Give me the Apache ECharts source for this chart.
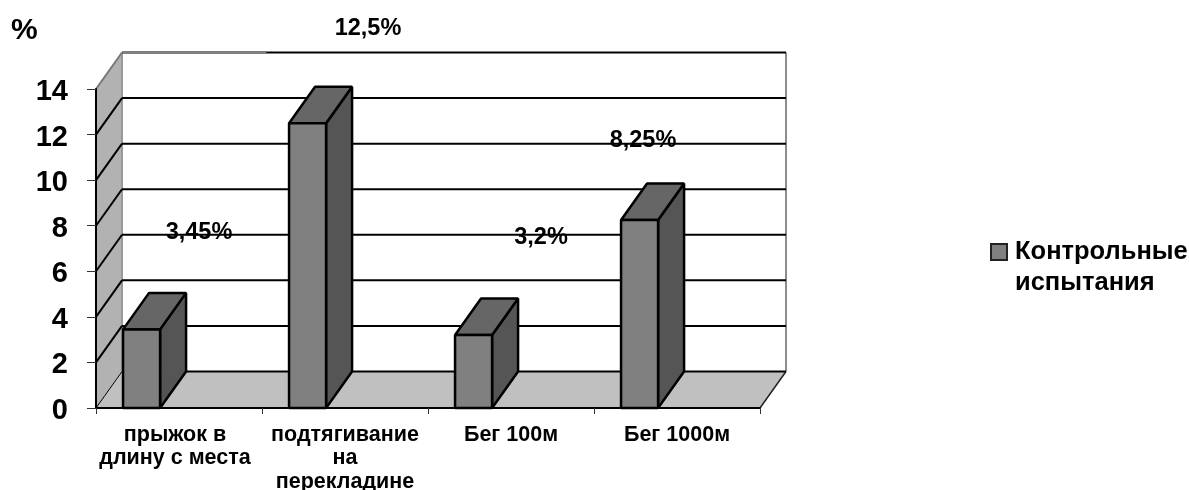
<!DOCTYPE html>
<html>
<head>
<meta charset="utf-8">
<style>html,body{margin:0;padding:0;background:#fff}#chart{width:1189px;height:490px}</style>
<script src="https://cdn.jsdelivr.net/npm/echarts@6/dist/echarts.min.js"></script>
</head>
<body>
<div id="chart"></div>
<script>
// Контрольные испытания, прирост результатов в процентах
const categories = ['прыжок в\nдлину с места', 'подтягивание\nна\nперекладине', 'Бег 100м', 'Бег 1000м'];
const values = [3.45, 12.5, 3.2, 8.25];
const valueLabels = ['3,45%', '12,5%', '3,2%', '8,25%'];
const yTicks = [0, 2, 4, 6, 8, 10, 12, 14];
const seriesName = 'Контрольные\nиспытания';

// Pseudo-3D projection of the depth axis, in pixels
const DEPTH_X = 26;
const DEPTH_Y = -36.5;
// Bar placement within a category band, as a share of the band width
const BAR_START = -0.337;
const BAR_WIDTH = 0.223;
// Where each value label sits relative to the top of its bar
const labelShift = [[20, -96.5], [23, -95], [30, -98], [-34, -80]];

const FONT = '"Liberation Sans", Arial, sans-serif';
const EDGE = '#000';

function poly(points, fill, stroke, lineWidth) {
  return {
    type: 'polygon',
    shape: { points },
    style: { fill: fill, stroke: stroke || 'none', lineWidth: lineWidth || 0, lineJoin: 'bevel' }
  };
}
function seg(x1, y1, x2, y2, stroke, lineWidth) {
  return {
    type: 'line',
    shape: { x1, y1, x2, y2 },
    style: { stroke, lineWidth, lineCap: 'butt' }
  };
}

// Side wall, floor and back wall of the box
function renderWalls(params, api) {
  const c = params.coordSys;
  const l = c.x, r = c.x + c.width;
  const bottom = api.coord([0, 0])[1], top = api.coord([0, 14])[1];
  return {
    type: 'group',
    children: [
      poly([[l + DEPTH_X, bottom + DEPTH_Y], [r + DEPTH_X, bottom + DEPTH_Y], [r + DEPTH_X, top + DEPTH_Y], [l + DEPTH_X, top + DEPTH_Y]], '#fff'),
      poly([[l, bottom], [l + DEPTH_X, bottom + DEPTH_Y], [l + DEPTH_X, top + DEPTH_Y], [l, top]], '#b2b2b2'),
      poly([[l, bottom], [l + DEPTH_X, bottom + DEPTH_Y], [r + DEPTH_X, bottom + DEPTH_Y], [r, bottom]], '#c0c0c0'),
      seg(l + DEPTH_X, bottom + DEPTH_Y, l + DEPTH_X, top + DEPTH_Y, '#999', 2),
      seg(r + DEPTH_X, bottom + DEPTH_Y, r + DEPTH_X, top + DEPTH_Y, '#8c8c8c', 2),
      seg(r, bottom, r + DEPTH_X, bottom + DEPTH_Y, '#222', 1.5)
    ]
  };
}

// One gridline per tick: a diagonal on the side wall and a run along the back wall
function renderGridline(params, api) {
  const c = params.coordSys;
  const l = c.x, r = c.x + c.width;
  const v = api.value(0);
  const y = api.coord([0, v])[1];
  const isTop = v === yTicks[yTicks.length - 1];
  const isFloor = v === 0;
  const diagColor = isTop ? '#777' : EDGE;
  const diagWidth = isFloor ? 1 : 2;
  const children = [seg(l, y, l + DEPTH_X, y + DEPTH_Y, diagColor, diagWidth)];
  children.push(seg(l + DEPTH_X, y + DEPTH_Y, r + DEPTH_X, y + DEPTH_Y, EDGE, 2));
  if (isTop) {
    children.push(seg(l + DEPTH_X, y + DEPTH_Y, l + DEPTH_X + c.width / 4.6, y + DEPTH_Y, '#808080', 2));
  }
  return { type: 'group', children };
}

function renderBar(params, api) {
  const i = api.value(0), v = api.value(1);
  const center = api.coord([i, v]);
  const base = api.coord([i, 0])[1];
  const band = api.size([1, 0])[0];
  const x0 = center[0] + band * BAR_START;
  const x1 = x0 + band * BAR_WIDTH;
  const y = center[1];
  const shift = labelShift[params.dataIndex];
  return {
    type: 'group',
    children: [
      poly([[x1, base], [x1 + DEPTH_X, base + DEPTH_Y], [x1 + DEPTH_X, y + DEPTH_Y], [x1, y]], '#555', EDGE, 2.5),
      poly([[x0, y], [x0 + DEPTH_X, y + DEPTH_Y], [x1 + DEPTH_X, y + DEPTH_Y], [x1, y]], '#666', EDGE, 2.5),
      poly([[x0, base], [x1, base], [x1, y], [x0, y]], '#808080', EDGE, 2.5),
      {
        type: 'text',
        z2: 20,
        style: {
          x: center[0] + shift[0],
          y: y + shift[1],
          text: valueLabels[params.dataIndex],
          align: 'center',
          verticalAlign: 'middle',
          fill: '#000',
          font: 'bold 23.5px ' + FONT
        }
      }
    ]
  };
}

const chart = echarts.init(document.getElementById('chart'), null, { renderer: 'canvas' });
chart.setOption({
  animation: false,
  backgroundColor: '#fff',
  tooltip: { show: false },
  title: {
    text: '%',
    left: 6,
    top: 11,
    textStyle: { fontFamily: FONT, fontWeight: 'bold', fontSize: 30, color: '#000' }
  },
  grid: { left: 96, top: 89, width: 664, height: 319, outerBoundsMode: 'none' },
  xAxis: {
    type: 'category',
    // the first, two-line label sits a little left of its band centre
    data: categories.map((value, i) => (i === 0 ? { value, textStyle: { padding: [0, 8, 0, 0] } } : value)),
    z: 5,
    axisLine: { show: true, lineStyle: { color: '#000', width: 2 } },
    axisTick: { show: true, alignWithLabel: false, length: 6, lineStyle: { color: '#333', width: 1 } },
    axisLabel: {
      interval: 0,
      margin: 15,
      lineHeight: 23.5,
      fontFamily: FONT,
      fontWeight: 'bold',
      fontSize: 21.5,
      color: '#000',
      verticalAlign: 'top'
    },
    splitLine: { show: false }
  },
  yAxis: {
    type: 'value',
    min: 0,
    max: 14,
    interval: 2,
    z: 5,
    axisLine: { show: true, lineStyle: { color: '#000', width: 2 } },
    axisTick: { show: true, length: 9, lineStyle: { color: '#333', width: 1 } },
    axisLabel: {
      margin: 28,
      fontFamily: FONT,
      fontWeight: 'bold',
      fontSize: 29,
      color: '#000',
      // digits sit slightly below their tick
      formatter: '{n|{value}}',
      rich: { n: { padding: [6, 0, 0, 0], fontFamily: FONT, fontWeight: 'bold', fontSize: 29, color: '#000' } }
    },
    splitLine: { show: false }
  },
  legend: {
    left: 990,
    top: 235,
    padding: 0,
    itemGap: 0,
    itemWidth: 16,
    itemHeight: 62,
    selectedMode: false,
    data: [{
      name: seriesName,
      icon: 'path://M0 8H16V24H0Z M0 0H0Z M0 62H0Z',
      itemStyle: { color: '#808080', borderColor: '#222', borderWidth: 2 }
    }],
    textStyle: { fontFamily: FONT, fontWeight: 'bold', fontSize: 25.5, lineHeight: 31, color: '#000', padding: [0, 0, 0, 3] }
  },
  series: [
    { type: 'custom', name: 'walls', z: 1, silent: true, clip: false, data: [[0]], renderItem: renderWalls },
    { type: 'custom', name: 'grid', z: 2, silent: true, clip: false, data: yTicks.map(v => [v]), encode: { y: 0 }, renderItem: renderGridline },
    {
      type: 'custom',
      name: seriesName,
      z: 6,
      clip: false,
      silent: true,
      itemStyle: { color: '#808080' },
      data: values.map((v, i) => [i, v]),
      encode: { x: 0, y: 1 },
      renderItem: renderBar
    }
  ]
});
</script>
</body>
</html>
